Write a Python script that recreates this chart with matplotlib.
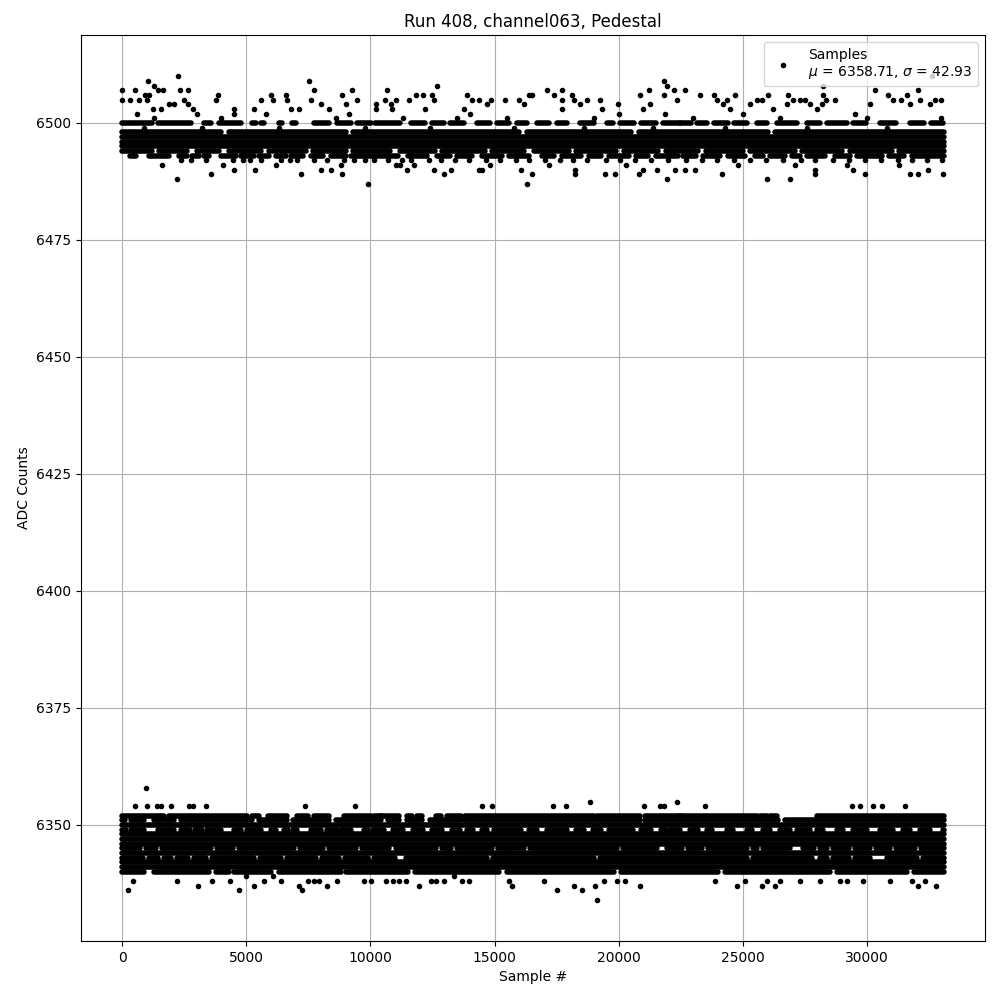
import numpy as np
import matplotlib
matplotlib.use('Agg')
import matplotlib.pyplot as plt

# ---- data ----
n_last = 33100          # last sample index (approx)
mu = 6358.71
sigma = 42.93

# ADC levels that are occupied over the whole run
full_levels = [6341, 6342, 6344, 6346, 6347, 6348, 6350, 6495, 6496, 6497]

# levels occupied over the whole run except for short gaps (start, end)
gaps_6351 = [(100, 360), (900, 1300), (1570, 1700), (2100, 2370), (5250, 5520), (6660, 6900),
             (8340, 8600), (10410, 10700), (11150, 11490), (12090, 12400), (13630, 13830),
             (18990, 19130), (20870, 21070), (23680, 23750), (25560, 25700), (26400, 26700)]
gaps_6349 = [(160, 360), (900, 1440), (2100, 2370), (2750, 2930), (3220, 3400), (3980, 4520),
             (4790, 5050), (5590, 6000), (6200, 6530), (6700, 6900), (7060, 7600), (8000, 8270),
             (8650, 8830), (9210, 9740), (9920, 10100), (10550, 10900), (11300, 11700),
             (12100, 12500), (12900, 13300), (13600, 13900), (14150, 14500), (14700, 14960),
             (16050, 16400), (16700, 17130), (17930, 18300), (18600, 18980), (19300, 19600),
             (20590, 20900), (21300, 21700), (21900, 22080), (22480, 22880), (23200, 23570),
             (23770, 24370), (24610, 25170), (25370, 25820), (26100, 26500), (26900, 27180),
             (27710, 27990), (28230, 28790), (29030, 29440), (30000, 30520), (31050, 31450),
             (31730, 32130), (32530, 33060)]
gaps_6345 = [(710, 950), (1380, 1620), (3590, 3830), (4460, 4700), (6940, 7180), (8080, 8320),
             (9420, 9660), (10750, 11020), (12640, 12880), (13240, 13480), (14910, 15150),
             (15770, 15900), (16190, 16430), (19940, 20180), (21530, 21940), (22560, 22800),
             (23370, 23610), (25170, 25410), (25580, 25820), (26900, 27440), (27850, 28090),
             (28390, 28630), (29260, 29500), (30130, 30370), (30940, 31180), (31940, 32180)]
gaps_6343 = [(840, 1080), (1450, 1690), (1980, 2220), (2650, 2890), (3390, 3630), (5330, 5570),
             (6410, 6650), (7810, 8050), (8750, 8990), (9890, 10130), (11010, 11420), (14710, 14950),
             (19000, 19240), (25170, 25410), (27770, 28110), (28390, 28630), (29260, 29500),
             (30120, 30790), (32010, 32250)]
gaps_6340 = [(900, 1300), (3500, 3800), (4300, 4500), (6000, 6300), (8800, 9000), (11500, 11800),
             (15200, 15500), (19800, 20100), (24000, 24300), (28500, 28800), (31600, 31900)]

# levels occupied only in stretches (start, end)
segs_6352 = [(0, 1700), (1900, 5050), (5250, 5520), (5860, 6660), (7060, 7470), (7730, 8340),
             (8940, 10010), (10150, 10410), (10410, 11150), (11490, 11690), (11890, 12090),
             (12630, 12830), (13100, 13630), (13830, 18990), (19130, 20870), (21070, 22480),
             (22480, 23680), (23750, 25560), (25700, 25960), (26100, 26370), (27970, 33100)]
segs_6500 = [(0, 1200), (1450, 2770), (3310, 3580), (3910, 4780), (5250, 5400), (5600, 5700),
             (6300, 6450), (6850, 7000), (7730, 8330), (8670, 9210), (9470, 10010),
             (10200, 11210), (11620, 12200), (12500, 12960), (13220, 13760), (14300, 14830),
             (15100, 15600), (15900, 16310), (16710, 17200), (17500, 17910), (18450, 18990),
             (19520, 19790), (20060, 20600), (20900, 21500), (21800, 22470), (22480, 22900),
             (23150, 23550), (23820, 24400), (24650, 25160), (25560, 25960), (26370, 27170),
             (27570, 28100), (28400, 29180), (29450, 29980), (30520, 31190), (31730, 32300),
             (32600, 33070)]
segs_6498 = [(0, 4000), (4300, 9000), (9300, 16000), (16300, 20500), (20800, 26000), (26300, 33100)]
segs_6494 = [(0, 1200), (1500, 2600), (3000, 3900), (4300, 5600), (5900, 7400), (7700, 9000),
             (9300, 10800), (11200, 12600), (12900, 14600), (14900, 16200), (16600, 18000),
             (18300, 19900), (20200, 21600), (21900, 23200), (23500, 25000), (25300, 27100),
             (27400, 29000), (29300, 31000), (31300, 33100)]
segs_6493 = [(300, 560), (1100, 1900), (2300, 2600), (2800, 3100), (3300, 3500), (4000, 4600),
             (4800, 5300), (5500, 5900), (6200, 6600), (6800, 7300), (7600, 8100), (8400, 9000),
             (9200, 10300), (10400, 11100), (11500, 12300), (12700, 13200), (13500, 14100),
             (14500, 15300), (15600, 16400), (16900, 17400), (17700, 18500), (18800, 19300),
             (19600, 20400), (20700, 21200), (21500, 22400), (22600, 23100), (23400, 24100),
             (24400, 25100), (25500, 25800), (26100, 26700), (27000, 27300), (27600, 28300),
             (28700, 29300), (29600, 30600), (30900, 31500), (31800, 33100)]

# single samples (x = sample #, y = ADC value)
pts_6510 = [2265, 32630]
pts_6509 = [1030, 7530, 21810]
pts_6508 = [1290, 12690, 21940, 28240]
pts_6507 = [10, 540, 1450, 1650, 2340, 2670, 7730, 9280, 10680, 17120, 17720, 21210, 22210,
            22680, 30320, 32060]
pts_6506 = [920, 1090, 3850, 5990, 6595, 8870, 11820, 12130, 12490, 13900, 16380, 16510, 17380,
            18130, 20870, 21810, 23280, 23820, 24690, 26030, 26830, 28240, 30860, 31600]
pts_6505 = [10, 300, 700, 1000, 2500, 3780, 5590, 6060, 6660, 7600, 9480, 10580, 11020, 11550,
            12560, 14100, 14370, 14840, 15440, 15980, 17720, 18190, 18730, 19260, 22350, 23950,
            24350, 25560, 25760, 27030, 27300, 27510, 28370, 28720, 31060, 31390, 32130, 32740,
            33000]
pts_6504 = [1900, 2100, 2640, 8000, 9010, 10210, 10820, 14710, 16180, 18460, 19990, 21270, 24220,
            25290, 26770, 27710, 28170, 30120, 31730, 32530]
pts_6503 = [1230, 1570, 2840, 4520, 5320, 6800, 7130, 8340, 10210, 10890, 12220, 13760, 17720,
            19330, 21000, 24490, 26230, 27970]
pts_6502 = [600, 3000, 4520, 5790, 9140, 14000, 20000, 21880, 25000, 29500]
pts_6501 = [1300, 4000, 8600, 11300, 13500, 15500, 19000, 23000, 26500, 30000, 33000]
pts_6499 = [900, 3200, 6300, 9800, 12400, 15800, 18600, 21400, 24300, 27600, 30800]
pts_6492 = [2370, 2780, 3380, 4450, 4850, 5150, 5600, 6420, 6750, 7060, 7730, 8270, 8940, 9350,
            9800, 10150, 10700, 11260, 11640, 12380, 12850, 13420, 13960, 14660, 15230, 15870,
            16400, 17030, 17650, 18160, 18740, 19480, 20050, 20640, 21320, 21980, 22720, 23340,
            23960, 24650, 25280, 25950, 26620, 27340, 27910, 28650, 29290, 29930, 30560, 31240,
            31820, 32410, 33020]
pts_6491 = [1600, 4070, 6200, 8800, 11020, 11210, 11750, 14800, 17200, 20300, 24800, 27100,
            29180, 31300]
pts_6490 = [4520, 5350, 8000, 8400, 11490, 12560, 13230, 14370, 14500, 16050, 18260, 21000,
            21540, 22280, 22680, 23080, 27910, 29450, 32460]
pts_6489 = [3580, 7200, 8870, 12960, 16510, 18260, 19460, 19870, 20800, 24150, 27910, 29920,
            31730, 32060, 33060]
pts_6488 = [2200, 21940, 25960, 26900]
pts_6487 = [9900, 16310]

pts_6358 = [970]
pts_6355 = [18830, 22350]
pts_6354 = [540, 990, 1400, 1570, 1970, 2710, 2840, 3380, 7360, 9370, 14500, 14910, 17350,
            17860, 21040, 21670, 21810, 23480, 29380, 29720, 30250, 30590, 31530]
pts_6339 = [5010, 6060, 13360]
pts_6338 = [430, 2200, 3620, 4340, 5720, 6390, 7470, 7730, 7930, 8670, 9740, 10010, 10620,
            10900, 11150, 11420, 12430, 12630, 12950, 13700, 13960, 15580, 16980, 19400, 19930,
            20270, 23890, 25090, 25960, 26500, 27300, 28110, 28910, 29180, 29850, 30920, 31800,
            32330]
pts_6337 = [3070, 5320, 7130, 8270, 11960, 15710, 18190, 19060, 20870, 24760, 25760, 26300,
            32060, 32800]
pts_6336 = [230, 4720, 7260, 17520, 18530]
pts_6334 = [19130]

point_levels = {6510: pts_6510, 6509: pts_6509, 6508: pts_6508, 6507: pts_6507, 6506: pts_6506,
                6505: pts_6505, 6504: pts_6504, 6503: pts_6503, 6502: pts_6502, 6501: pts_6501,
                6499: pts_6499, 6492: pts_6492, 6491: pts_6491, 6490: pts_6490, 6489: pts_6489,
                6488: pts_6488, 6487: pts_6487, 6358: pts_6358, 6355: pts_6355, 6354: pts_6354,
                6339: pts_6339, 6338: pts_6338, 6337: pts_6337, 6336: pts_6336, 6334: pts_6334}
gap_levels = {6351: gaps_6351, 6349: gaps_6349, 6345: gaps_6345, 6343: gaps_6343,
              6340: gaps_6340}
seg_levels = {6352: segs_6352, 6500: segs_6500, 6498: segs_6498, 6494: segs_6494,
              6493: segs_6493}


def fill_between_gaps(gaps, start=0, end=n_last):
    segs = []
    cur = start
    for a, b in sorted(gaps):
        if a > cur:
            segs.append((cur, a))
        cur = max(cur, b)
    if cur < end:
        segs.append((cur, end))
    return segs


# collect runs of samples on each level
run_y, run_x0, run_x1 = [], [], []
for lvl in full_levels:
    run_y.append(lvl); run_x0.append(0); run_x1.append(n_last)
for lvl, gaps in gap_levels.items():
    for a, b in fill_between_gaps(gaps):
        run_y.append(lvl); run_x0.append(a); run_x1.append(b)
for lvl, segs in seg_levels.items():
    for a, b in segs:
        run_y.append(lvl); run_x0.append(a); run_x1.append(b)

pt_x, pt_y = [], []
for lvl, xs in point_levels.items():
    pt_x += xs
    pt_y += [lvl] * len(xs)

fig, ax = plt.subplots(figsize=(10, 10), dpi=100)
fig.subplots_adjust(left=0.081, right=0.985, top=0.965, bottom=0.059)
# dense stretches of samples: a line as thick as one '.' marker
ax.hlines(run_y, run_x0, run_x1, colors='k', linewidth=4, capstyle='round')
ax.plot(pt_x, pt_y, 'k.', label='Samples\n$\\mu$ = %.2f, $\\sigma$ = %.2f' % (mu, sigma))
ax.set_title('Run 408, channel063, Pedestal')
ax.set_xlabel('Sample #')
ax.set_ylabel('ADC Counts')
ax.legend(loc='upper right')
ax.grid()
plt.savefig('out.png')
